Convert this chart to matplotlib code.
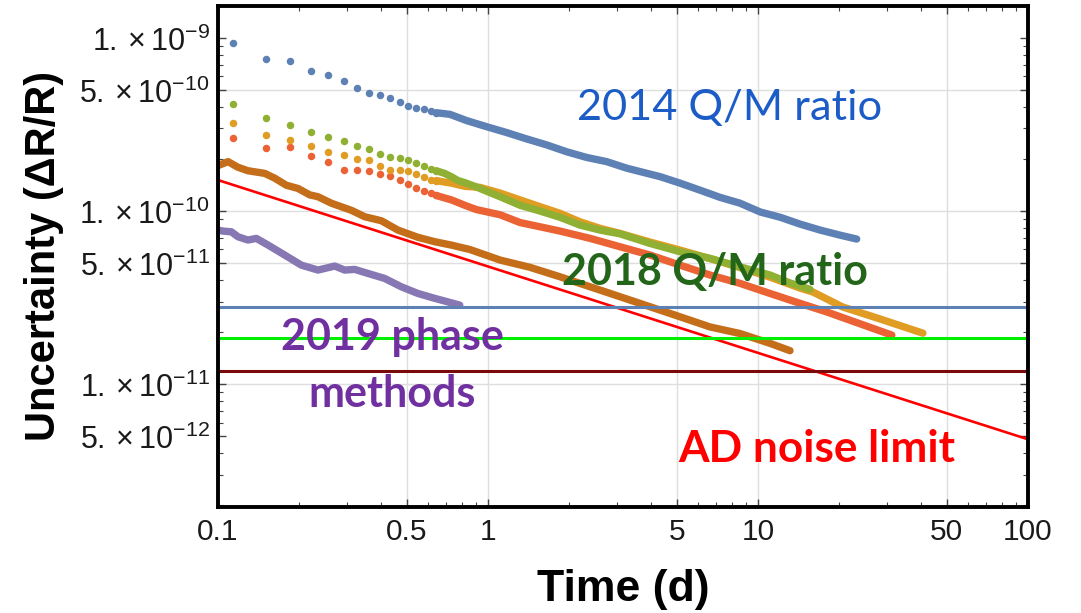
import matplotlib
matplotlib.use("Agg")
import matplotlib.pyplot as plt
from matplotlib.ticker import FixedLocator, NullFormatter, FixedFormatter

plt.rcParams['mathtext.fontset'] = 'custom'
plt.rcParams['mathtext.rm'] = 'Liberation Sans'
plt.rcParams['mathtext.it'] = 'Liberation Sans:italic'
plt.rcParams['mathtext.bf'] = 'Liberation Sans:bold'

# ---------------- data ----------------
# early, sparsely sampled points (shared sample times, days)
t_dots = [0.114, 0.150, 0.185, 0.221, 0.256, 0.292, 0.328, 0.363, 0.398, 0.434,
          0.471, 0.505, 0.541, 0.578, 0.614, 0.643]
blue_dots = [9.32e-10, 7.56e-10, 7.36e-10, 6.47e-10, 6.14e-10, 5.64e-10, 5.12e-10, 4.79e-10,
             4.68e-10, 4.48e-10, 4.28e-10, 4.05e-10, 3.95e-10, 3.87e-10, 3.80e-10, 3.70e-10]
green_dots = [4.15e-10, 3.43e-10, 3.13e-10, 2.87e-10, 2.67e-10, 2.55e-10, 2.38e-10, 2.29e-10,
              2.14e-10, 2.06e-10, 2.02e-10, 1.97e-10, 1.90e-10, 1.83e-10, 1.76e-10, 1.71e-10]
orange_dots = [3.21e-10, 2.74e-10, 2.56e-10, 2.37e-10, 2.20e-10, 2.11e-10, 1.99e-10, 1.96e-10,
               1.82e-10, 1.73e-10, 1.73e-10, 1.71e-10, 1.64e-10, 1.57e-10, 1.52e-10, 1.50e-10]
redorange_dots = [2.65e-10, 2.32e-10, 2.34e-10, 2.09e-10, 1.92e-10, 1.72e-10, 1.72e-10, 1.70e-10,
                  1.64e-10, 1.59e-10, 1.51e-10, 1.43e-10, 1.36e-10, 1.31e-10, 1.27e-10, 1.23e-10]

# later, densely sampled parts (merge into thick traces)
blue_t = [0.643, 0.723, 0.834, 0.989, 1.173, 1.391, 1.650, 1.957, 2.32, 2.75, 3.26, 3.66,
          4.34, 5.14, 6.10, 7.23, 8.58, 10.2, 12.1, 14.3, 17.0, 20.1, 23.2]
blue_v = [3.70e-10, 3.62e-10, 3.33e-10, 3.07e-10, 2.84e-10, 2.61e-10, 2.41e-10, 2.20e-10,
          2.04e-10, 1.93e-10, 1.77e-10, 1.69e-10, 1.58e-10, 1.45e-10, 1.32e-10, 1.20e-10,
          1.11e-10, 9.87e-11, 9.20e-11, 8.41e-11, 7.76e-11, 7.26e-11, 6.89e-11]

orange_t = [0.643, 0.691, 0.731, 0.774, 0.820, 0.934, 1.108, 1.314, 1.558, 1.848, 2.19, 2.60,
            3.08, 3.98, 5.14, 6.64, 8.58, 11.08, 14.3, 16.0, 20.6, 27.6, 40.8]
orange_v = [1.50e-10, 1.47e-10, 1.45e-10, 1.42e-10, 1.39e-10, 1.37e-10, 1.27e-10, 1.16e-10,
            1.06e-10, 9.70e-11, 8.67e-11, 7.94e-11, 7.43e-11, 6.62e-11, 5.95e-11, 5.31e-11,
            4.71e-11, 4.15e-11, 3.59e-11, 3.40e-11, 2.79e-11, 2.41e-11, 1.97e-11]

green_t = [0.643, 0.691, 0.731, 0.774, 0.820, 0.893, 0.934, 1.108, 1.314, 1.558, 1.848, 2.19,
           2.60, 3.08, 3.98, 5.14, 6.64, 8.58, 11.08, 13.14, 15.58]
green_v = [1.71e-10, 1.65e-10, 1.58e-10, 1.50e-10, 1.46e-10, 1.39e-10, 1.35e-10, 1.21e-10,
           1.08e-10, 1.00e-10, 9.20e-11, 8.30e-11, 7.76e-11, 7.39e-11, 6.50e-11, 5.82e-11,
           5.33e-11, 4.76e-11, 4.27e-11, 3.84e-11, 3.53e-11]

redorange_t = [0.643, 0.691, 0.731, 0.774, 0.820, 0.905, 1.108, 1.314, 1.558, 1.848, 2.39,
               3.08, 3.98, 5.14, 6.64, 8.58, 11.08, 14.3, 18.0, 31.3]
redorange_v = [1.23e-10, 1.19e-10, 1.16e-10, 1.12e-10, 1.08e-10, 1.02e-10, 9.52e-11, 8.58e-11,
               8.11e-11, 7.66e-11, 6.95e-11, 6.22e-11, 5.57e-11, 4.87e-11, 4.27e-11, 3.82e-11,
               3.34e-11, 2.93e-11, 2.61e-11, 1.92e-11]

brown_t = [0.100, 0.1089, 0.1186, 0.129, 0.149, 0.162, 0.179, 0.198, 0.2186, 0.2346, 0.2628,
           0.3117, 0.3495, 0.4026, 0.464, 0.550, 0.635, 0.731, 0.858, 1.108, 1.43, 1.848,
           2.39, 3.08, 3.98, 5.14, 6.64, 8.58, 11.08, 13.14]
brown_v = [1.83e-10, 1.93e-10, 1.79e-10, 1.71e-10, 1.65e-10, 1.55e-10, 1.41e-10, 1.35e-10,
           1.24e-10, 1.21e-10, 1.11e-10, 1.01e-10, 9.27e-11, 8.79e-11, 7.76e-11, 7.05e-11,
           6.65e-11, 6.36e-11, 5.99e-11, 5.21e-11, 4.73e-11, 4.17e-11, 3.65e-11, 3.20e-11,
           2.80e-11, 2.45e-11, 2.14e-11, 1.96e-11, 1.72e-11, 1.56e-11]

purple_t = [0.100, 0.1043, 0.112, 0.1186, 0.129, 0.1387, 0.1532, 0.1766, 0.2035, 0.2346,
            0.2705, 0.2946, 0.3209, 0.3593, 0.4143, 0.4775, 0.550, 0.635, 0.731, 0.786]
purple_v = [7.76e-11, 7.66e-11, 7.59e-11, 7.10e-11, 6.80e-11, 6.95e-11, 6.36e-11, 5.57e-11,
            4.87e-11, 4.56e-11, 4.81e-11, 4.56e-11, 4.60e-11, 4.36e-11, 4.08e-11, 3.65e-11,
            3.34e-11, 3.13e-11, 2.95e-11, 2.86e-11]

# AD noise limit (straight line in log-log)
ad_t = [0.1, 100.0]
ad_v = [1.51e-10, 4.8e-12]

# horizontal reference levels
hline_values = [2.80e-11, 1.85e-11, 1.19e-11]
hline_colors = ['#5E81B5', '#00F000', '#7A0A0A']

x_major = [0.1, 0.5, 1, 5, 10, 50, 100]
x_major_labels = ['0.1', '0.5', '1', '5', '10', '50', '100']
y_major = [1e-9, 5e-10, 1e-10, 5e-11, 1e-11, 5e-12]
y_major_labels = [r'$1.\times10^{-9}$', r'$5.\times10^{-10}$', r'$1.\times10^{-10}$',
                  r'$5.\times10^{-11}$', r'$1.\times10^{-11}$', r'$5.\times10^{-12}$']
grid_x = [0.5, 1, 5, 10, 50]
grid_y = [5e-10, 1e-10, 5e-11, 1e-11]

# ---------------- figure ----------------
W, H = 1081, 613
fig = plt.figure(figsize=(W / 100, H / 100), dpi=100)
L, R, T, B = 218, 1028, 6, 507
ax = fig.add_axes([L / W, 1 - B / H, (R - L) / W, (B - T) / H])
ax.set_xscale('log')
ax.set_yscale('log')
ax.set_xlim(0.1, 100)
ax.set_ylim(1.95e-12, 1.53e-9)

for gx in grid_x:
    ax.axvline(gx, color='#dedede', lw=1.0, zorder=0)
for gy in grid_y:
    ax.axhline(gy, color='#dedede', lw=1.0, zorder=0)

c_blue, c_orange, c_green, c_red, c_purple, c_brown = (
    '#5E81B5', '#E19C24', '#8FB032', '#EB6235', '#8778B3', '#C56E1A')

lw_trace = 5.3
ms_dot = 5.4

ax.plot(ad_t, ad_v, color='#FF0000', lw=1.9, zorder=2)

ax.plot(purple_t, purple_v, color=c_purple, lw=lw_trace, solid_capstyle='round',
        solid_joinstyle='round', zorder=3)
ax.plot(brown_t, brown_v, color=c_brown, lw=lw_trace, solid_capstyle='round',
        solid_joinstyle='round', zorder=3)

for (tt, vv, dots, col, z) in [
        (redorange_t, redorange_v, redorange_dots, c_red, 4),
        (orange_t, orange_v, orange_dots, c_orange, 5),
        (green_t, green_v, green_dots, c_green, 6),
        (blue_t, blue_v, blue_dots, c_blue, 7)]:
    ax.plot(t_dots, dots, 'o', color=col, ms=ms_dot, mec='none', zorder=z)
    ax.plot(tt, vv, color=col, lw=lw_trace, solid_capstyle='round',
            solid_joinstyle='round', zorder=z)

for hv, hc in zip(hline_values, hline_colors):
    ax.axhline(hv, color=hc, lw=2.2, zorder=9)

# ticks
ax.xaxis.set_major_locator(FixedLocator(x_major))
ax.xaxis.set_major_formatter(FixedFormatter(x_major_labels))
xminor = [m * d for d in (0.1, 1, 10) for m in range(2, 10) if m != 5]
ax.xaxis.set_minor_locator(FixedLocator(xminor))
ax.xaxis.set_minor_formatter(NullFormatter())
ax.yaxis.set_major_locator(FixedLocator(y_major))
ax.yaxis.set_major_formatter(FixedFormatter(y_major_labels))
yminor = [m * d for d in (1e-12, 1e-11, 1e-10, 1e-9) for m in range(2, 10) if m != 5]
ax.yaxis.set_minor_locator(FixedLocator(yminor))
ax.yaxis.set_minor_formatter(NullFormatter())

ax.tick_params(which='both', direction='in', top=True, right=True, color='#444444')
ax.tick_params(which='major', length=6, width=1.0)
ax.tick_params(which='minor', length=3.5, width=0.8)
ax.tick_params(axis='x', which='major', pad=8, labelsize=21.5, labelcolor='#1a1a1a')
ax.tick_params(axis='y', which='major', pad=6, labelsize=22, labelcolor='#1a1a1a')
for lab in ax.get_xticklabels():
    lab.set_fontfamily('Liberation Sans')
for sp in ax.spines.values():
    sp.set_linewidth(2.8)
    sp.set_color('black')
    sp.set_zorder(12)

# axis titles
fig.text(623 / W, 1 - 601 / H, 'Time (d)', ha='center', va='baseline',
         fontsize=32, fontweight='bold', family='Liberation Sans')
fig.text(55 / W, 1 - 256 / H, 'Uncertainty (\u0394R/R)', ha='center', va='baseline',
         rotation=90, rotation_mode='anchor', fontsize=30, fontweight='bold',
         family='Liberation Sans')

# annotations
ann_font = ['Lato', 'DejaVu Sans']
fig.text(577 / W, 1 - 120 / H, '2014 Q/M ratio', ha='left', va='baseline',
         fontsize=31.2, color='#1B5CC6', family=ann_font, zorder=8)
fig.text(562 / W, 1 - 285 / H, '2018 Q/M ratio', ha='left', va='baseline',
         fontsize=31, fontweight='bold', color='#23661A', family=ann_font, zorder=8)
fig.text(392 / W, 1 - 350 / H, '2019 phase', ha='center', va='baseline',
         fontsize=31, fontweight='bold', color='#7030A0', family=ann_font, zorder=8)
fig.text(392 / W, 1 - 406.7 / H, 'methods', ha='center', va='baseline',
         fontsize=31, fontweight='bold', color='#7030A0', family=ann_font, zorder=8)
fig.text(678 / W, 1 - 462 / H, 'AD noise limit', ha='left', va='baseline',
         fontsize=31.8, fontweight='bold', color='#FF0000', family=ann_font, zorder=8)

fig.savefig('out.png', dpi=100)
